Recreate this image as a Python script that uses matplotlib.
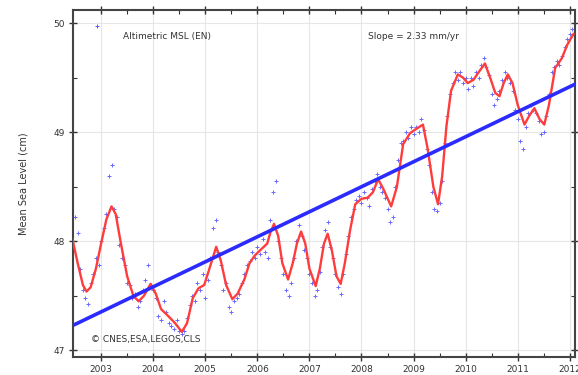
import numpy as np
import matplotlib
matplotlib.use('Agg')
import matplotlib.pyplot as plt

# smoothed curve (year, cm)
smooth_years = [2002.45, 2002.55, 2002.65, 2002.72, 2002.80, 2002.90, 2003.00, 2003.10, 2003.20,
                2003.28, 2003.38, 2003.50, 2003.62, 2003.72, 2003.82, 2003.95, 2004.05, 2004.15,
                2004.30, 2004.42, 2004.55, 2004.65, 2004.76, 2004.87, 2004.98, 2005.08, 2005.21,
                2005.30, 2005.40, 2005.52, 2005.62, 2005.75, 2005.85, 2005.95, 2006.08, 2006.19,
                2006.25, 2006.32, 2006.40, 2006.48, 2006.59, 2006.68, 2006.76, 2006.84, 2006.92,
                2007.00, 2007.12, 2007.20, 2007.28, 2007.35, 2007.43, 2007.52, 2007.60, 2007.68,
                2007.78, 2007.88, 2008.00, 2008.12, 2008.22, 2008.32, 2008.42, 2008.57, 2008.68,
                2008.80, 2008.93, 2009.05, 2009.18, 2009.27, 2009.38, 2009.47, 2009.55, 2009.63,
                2009.72, 2009.85, 2009.95, 2010.04, 2010.15, 2010.25, 2010.37, 2010.47, 2010.57,
                2010.65, 2010.73, 2010.81, 2010.90, 2011.00, 2011.13, 2011.22, 2011.32, 2011.42,
                2011.51, 2011.60, 2011.72, 2011.85, 2011.95, 2012.07]
smooth_msl = [48.02, 47.80, 47.60, 47.54, 47.58, 47.75, 47.98, 48.20, 48.32,
              48.25, 47.98, 47.68, 47.50, 47.45, 47.50, 47.61, 47.52, 47.38,
              47.31, 47.25, 47.17, 47.25, 47.48, 47.57, 47.60, 47.75, 47.95,
              47.82, 47.60, 47.47, 47.52, 47.65, 47.80, 47.87, 47.93, 47.98,
              48.08, 48.16, 48.05, 47.80, 47.65, 47.80, 47.98, 48.09, 47.98,
              47.75, 47.59, 47.75, 47.98, 48.07, 47.92, 47.68, 47.61, 47.80,
              48.10, 48.34, 48.39, 48.40, 48.45, 48.57, 48.48, 48.32, 48.50,
              48.89, 48.99, 49.03, 49.07, 48.85, 48.50, 48.34, 48.60, 49.05,
              49.38, 49.53, 49.50, 49.45, 49.48, 49.55, 49.63, 49.50, 49.36,
              49.33, 49.45, 49.53, 49.45, 49.25, 49.07, 49.15, 49.22, 49.12,
              49.07, 49.25, 49.59, 49.68, 49.80, 49.90]

# altimetric MSL samples, every 0.05 yr starting 2002.50
dots_start = 2002.50
dots_msl = [
    # 2002.50 - 2002.95
    48.22, 48.08, 47.75, 47.55, 47.48, 47.43, 47.62, 47.70, 47.85, 47.78,
    # 2003
    48.00, 48.12, 48.25, 48.60, 48.70, 48.30, 48.22, 47.97, 47.85, 47.78,
    47.62, 47.60, 47.48, 47.52, 47.40, 47.45, 47.55, 47.65, 47.78, 47.60,
    # 2004
    47.55, 47.48, 47.32, 47.28, 47.45, 47.35, 47.25, 47.22, 47.20, 47.28,
    47.18, 47.15, 47.18, 47.30, 47.42, 47.50, 47.45, 47.62, 47.55, 47.70,
    # 2005
    47.48, 47.65, 47.85, 48.12, 48.20, 47.90, 47.78, 47.55, 47.62, 47.40,
    47.35, 47.45, 47.48, 47.52, 47.62, 47.70, 47.78, 47.82, 47.90, 47.85,
    # 2006
    47.95, 47.88, 48.02, 47.90, 47.85, 48.20, 48.45, 48.55, 48.00, 47.85,
    47.70, 47.55, 47.50, 47.62, 47.85, 48.00, 48.15, 48.05, 47.92, 47.85,
    # 2007
    47.70, 47.62, 47.50, 47.55, 47.72, 47.95, 48.10, 48.18, 47.95, 47.85,
    47.70, 47.58, 47.52, 47.70, 47.88, 48.05, 48.22, 48.30, 48.38, 48.42,
    # 2008
    48.35, 48.45, 48.40, 48.32, 48.48, 48.55, 48.62, 48.50, 48.45, 48.40,
    48.30, 48.18, 48.22, 48.50, 48.75, 48.90, 48.92, 49.00, 48.95, 49.05,
    # 2009
    48.98, 49.05, 49.00, 49.12, 49.02, 48.85, 48.70, 48.45, 48.30, 48.28,
    48.35, 48.55, 48.90, 49.15, 49.35, 49.45, 49.55, 49.48, 49.55, 49.45,
    # 2010
    49.50, 49.40, 49.50, 49.42, 49.55, 49.50, 49.62, 49.68, 49.60, 49.52,
    49.35, 49.25, 49.30, 49.38, 49.48, 49.55, 49.50, 49.45, 49.38, 49.20,
    # 2011
    49.12, 48.92, 48.85, 49.05, 49.18, 49.25, 49.20, 49.18, 49.10, 48.98,
    49.00, 49.15, 49.35, 49.55, 49.60, 49.65, 49.62, 49.70, 49.78, 49.85,
    # 2012
    49.90, 49.95,
]
dots_years = dots_start + 0.05 * np.arange(len(dots_msl))

# linear trend (slope 2.33 mm/yr)
trend_years = [2002.46, 2012.10]
trend_msl = [47.23, 49.44]

year_ticks = list(range(2003, 2013))

fig = plt.figure(figsize=(5.78, 3.75), dpi=100)
ax = fig.add_axes([0.1263, 0.048, 0.8685, 0.9253])

ax.plot(dots_years, dots_msl, '+', color='#5a5aff', ms=2.8, mew=0.7, alpha=0.9, zorder=2)
ax.plot(smooth_years, smooth_msl, color='#ff3c3c', lw=1.7, solid_joinstyle='round', zorder=3)
ax.plot(trend_years, trend_msl, color='#2b2bff', lw=2.6, zorder=4)

ax.set_xlim(2002.46, 2012.10)
ax.set_ylim(46.94, 50.12)
ax.set_xticks(year_ticks)
ax.set_xticklabels([str(y) for y in year_ticks])
ax.set_xticks(np.array(year_ticks[:-1]) + 0.5, minor=True)
ax.set_yticks([47, 48, 49, 50])
ax.set_yticks([47.5, 48.5, 49.5], minor=True)
ax.grid(True, which='major', color='#e6e6e6', lw=0.8)
ax.set_axisbelow(True)

ax.tick_params(which='major', direction='inout', length=6, width=1.0, color='#333333',
               labelsize=6.5, labelcolor='#333333', top=True, right=True, pad=3)
ax.tick_params(which='minor', direction='in', length=3, width=0.8, color='#333333',
               top=True, right=True)
for s in ax.spines.values():
    s.set_color('#444444')
    s.set_linewidth(1.5)

ax.set_ylabel('Mean Sea Level (cm)', fontsize=7, color='#333333', labelpad=18)

# legend-like annotations
ax.plot([2002.92], [49.97], '+', color='#5a5aff', ms=2.8, mew=0.7, clip_on=False)
ax.text(0.10, 0.925, 'Altimetric MSL (EN)', transform=ax.transAxes, fontsize=6.5,
        color='#333333', va='center')
ax.text(0.588, 0.925, 'Slope = 2.33 mm/yr', transform=ax.transAxes, fontsize=6.5,
        color='#333333', va='center')
ax.text(0.035, 0.05, '\u00a9 CNES,ESA,LEGOS,CLS', transform=ax.transAxes, fontsize=6.5,
        color='#333333', va='center')

fig.savefig('out.png', dpi=100)
